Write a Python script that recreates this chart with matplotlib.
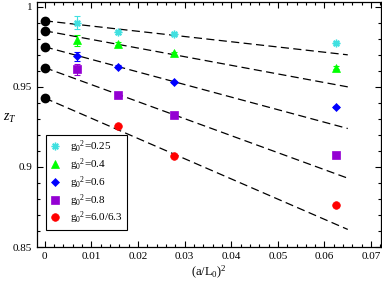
import matplotlib
matplotlib.use('Agg')
import matplotlib.pyplot as plt
from matplotlib.ticker import MultipleLocator, FormatStrFormatter

plt.rcParams['font.family'] = 'Liberation Serif'
plt.rcParams['mathtext.fontset'] = 'custom'
plt.rcParams['mathtext.rm'] = 'Liberation Serif'
plt.rcParams['mathtext.it'] = 'Liberation Serif:italic'

# (a/L)^2 for L/a = 12, 8, 6, 4
x_lat = [0.00694, 0.0156, 0.0278, 0.0625]

labels = ['0.25', '0.4', '0.6', '0.8', '6.0/6.3']
colors = ['#40e0e0', '#00ff00', '#0000ff', '#9400d3', '#ff0000']
markers = [(8, 2, 0), '^', 'D', 's', 'o']

z_025 = [0.990, 0.984, 0.983, 0.9775]
z_04 = [0.979, 0.977, 0.971, 0.962]
z_06 = [0.969, 0.9625, 0.953, 0.9375]
z_08 = [0.961, 0.945, 0.9325, 0.9075]
z_60 = [None, 0.9256, 0.9069, 0.876]

err_025 = [0.004, 0.001, 0.0008, 0.0008]
err_04 = [0.0035, 0.001, 0.0008, 0.0008]
err_06 = [0.003, 0.001, 0.0008, 0.0008]
err_08 = [0.0035, 0.001, 0.0008, 0.0008]
err_60 = [0.0, 0.0008, 0.0008, 0.0008]

series = [z_025, z_04, z_06, z_08, z_60]
errors = [err_025, err_04, err_06, err_08, err_60]

# continuum extrapolations: value at x=0 and at end of fit line
fit_x = [0.0, 0.065]
fit_y0 = [0.99125, 0.985, 0.975, 0.962, 0.943]
fit_y1 = [0.970, 0.950, 0.924, 0.893, 0.861]

fig = plt.figure(figsize=(3.82, 2.83), dpi=100)
ax = fig.add_axes([0.097, 0.127, 0.900, 0.866])

for y0, y1 in zip(fit_y0, fit_y1):
    ax.plot(fit_x, [y0, y1], color='black', lw=0.9, dashes=(6.5, 3.5), zorder=1)

ax.plot([0.0] * len(fit_y0), fit_y0, 'o', color='black', ms=6, zorder=3)

for ys, es, c, m, lab in zip(series, errors, colors, markers, labels):
    xs = [x for x, y in zip(x_lat, ys) if y is not None]
    yy = [y for y in ys if y is not None]
    ee = [e for e, y in zip(es, ys) if y is not None]
    ms = 5.5 if m != 'D' else 4.2
    ax.errorbar(xs, yy, yerr=ee, fmt='none', ecolor=c, elinewidth=0.8,
                capsize=2.5, capthick=0.8, zorder=2)
    ax.plot(xs, yy, linestyle='none', marker=m, color=c, mec=c, ms=ms,
            mew=1.0 if m == (8, 2, 0) else 0.5, zorder=3,
            label=r'g${}_0{}^2$=' + lab)

ax.set_xlim(-0.00167, 0.0721)
ax.set_ylim(0.85, 1.003)
ax.xaxis.set_major_locator(MultipleLocator(0.01))
ax.xaxis.set_minor_locator(MultipleLocator(0.002))
ax.yaxis.set_major_locator(MultipleLocator(0.05))
ax.yaxis.set_minor_locator(MultipleLocator(0.01))
ax.xaxis.set_major_formatter(FormatStrFormatter('%g'))
ax.yaxis.set_major_formatter(FormatStrFormatter('%g'))
ax.tick_params(which='both', direction='in', top=True, right=True,
               labelsize=8, width=0.8)
ax.tick_params(which='major', length=4.5)
ax.tick_params(which='minor', length=2.5)
for s in ax.spines.values():
    s.set_linewidth(0.9)

ax.set_xlabel(r'(a/L${}_0$)${}^2$', fontsize=9, labelpad=2)
ax.set_ylabel(r'$z_T$', fontsize=10, rotation=0)
ax.yaxis.set_label_coords(-0.078, 0.5)

leg = ax.legend(loc='lower left', bbox_to_anchor=(0.026, 0.069),
                borderaxespad=0, fontsize=8, frameon=True, fancybox=False,
                edgecolor='black', framealpha=1, handlelength=1.0,
                handletextpad=0.8, labelspacing=0.1, borderpad=0.35)
leg.get_frame().set_linewidth(0.8)

fig.savefig('out.png', dpi=100)
